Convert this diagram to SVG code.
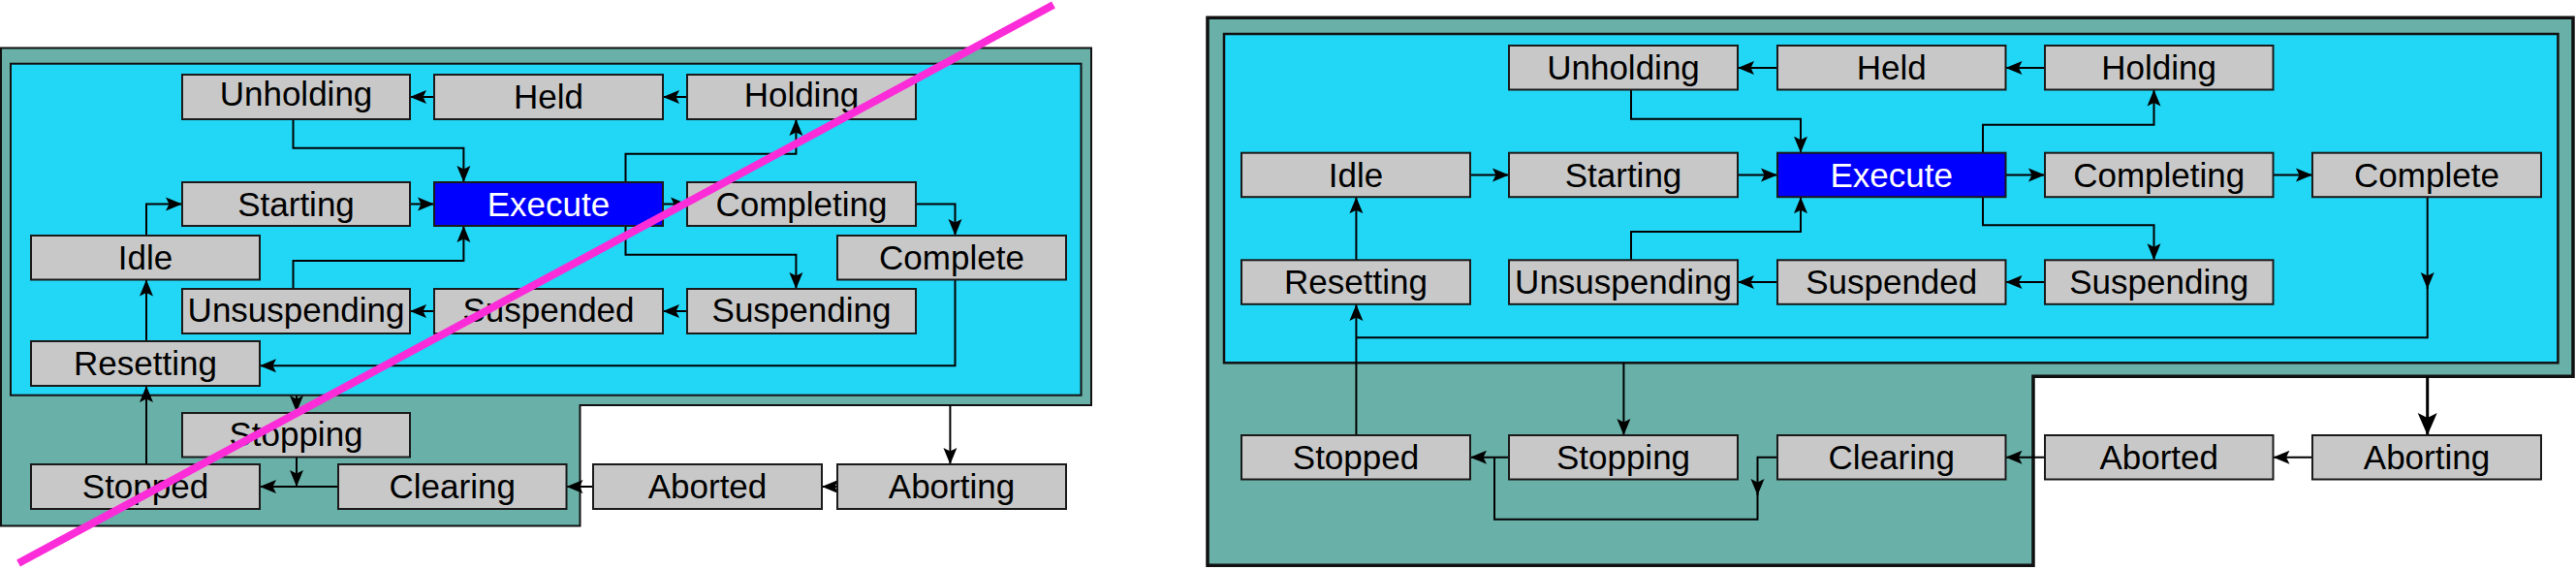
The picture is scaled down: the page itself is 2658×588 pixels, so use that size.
<svg xmlns="http://www.w3.org/2000/svg" width="2658" height="588" viewBox="0 0 2658 588">
<defs>
<style>
.bg{fill:#fff}
.outer{fill:#68b0a8;stroke:#111;stroke-width:2}
.outerR{fill:#68b0a8;stroke:#111;stroke-width:3.5}
.inner{fill:#22d6f5;stroke:#111;stroke-width:2}
.innerR{fill:#22d6f5;stroke:#111;stroke-width:2.5}
.box rect{fill:#c8c8c8;stroke:#1a1a1a;stroke-width:2}
.box text{font-family:"Liberation Sans",Arial,sans-serif;font-size:35px;fill:#000;text-anchor:middle}
.exec rect{fill:#0000ff;stroke:#1a1a1a;stroke-width:2}
.exec text{font-family:"Liberation Sans",Arial,sans-serif;font-size:35px;fill:#fff;text-anchor:middle}
.c path{fill:none;stroke:#000;stroke-width:2}
.c path.a{marker-end:url(#a)}
.c path.big{stroke-width:3;marker-end:url(#A)}
.strike{stroke:#fc2cd9;stroke-width:8;fill:none}
</style>
<marker id="a" markerWidth="18" markerHeight="16" refX="17" refY="8" orient="auto" markerUnits="userSpaceOnUse"><path d="M0,1 L17,8 L0,15 L3.5,8 Z" fill="#000"/></marker>
<marker id="A" markerWidth="24" markerHeight="22" refX="23" refY="11" orient="auto" markerUnits="userSpaceOnUse"><path d="M0,1 L23,11 L0,21 L5,11 Z" fill="#000"/></marker>
</defs>
<rect class="bg" x="0" y="0" width="2658" height="588"/>

<!-- LEFT DIAGRAM -->
<g id="left-containers">
<path class="outer" d="M1,49.5 H1126 V418 H598.5 V542.5 H1 Z"/>
<rect class="inner" x="11" y="65.7" width="1104.5" height="342"/>
</g>

<g id="left-connectors" class="c">
<path class="a" d="M448,100 H423"/>
<path class="a" d="M709,100 H684"/>
<path class="a" d="M302.5,123 V152.7 H478.4 V188"/>
<path class="a" d="M151,243 V210.5 H188"/>
<path class="a" d="M423,210.5 H448"/>
<path class="a" d="M684,210.5 H709"/>
<path class="a" d="M645.5,188 V158.7 H821.4 V123"/>
<path class="a" d="M945,210.5 H985.5 V243"/>
<path class="a" d="M645.5,233 V262.7 H821.4 V298"/>
<path class="a" d="M709,321 H684"/>
<path class="a" d="M448,321 H423"/>
<path class="a" d="M302.5,298 V269 H478.4 V233"/>
<path class="a" d="M151,352 V288.5"/>
<path class="a" d="M985.5,288.5 V377.3 H268"/>
<path class="a" d="M306,408 V425"/>
<path class="a" d="M151,479 V398"/>
<path class="a" d="M306,471.5 V502"/>
<path class="a" d="M349,502 H268"/>
<path class="a" d="M612,502 H584.5"/>
<path class="a" d="M864,502 H848"/>
<path class="a" d="M980.4,418 V479"/>
</g>

<g id="L-Unholding" class="box"><rect x="188" y="77" width="235" height="46"/><text x="305.5" y="109">Unholding</text></g>
<g id="L-Held" class="box"><rect x="448" y="77" width="236" height="46"/><text x="566" y="112">Held</text></g>
<g id="L-Holding" class="box"><rect x="709" y="77" width="236" height="46"/><text x="827" y="110">Holding</text></g>
<g id="L-Starting" class="box"><rect x="188" y="188" width="235" height="45"/><text x="305.5" y="222.5">Starting</text></g>
<g id="L-Execute" class="exec"><rect x="448" y="188" width="236" height="45"/><text x="566" y="222.5">Execute</text></g>
<g id="L-Completing" class="box"><rect x="709" y="188" width="236" height="45"/><text x="827" y="222.5">Completing</text></g>
<g id="L-Idle" class="box"><rect x="32" y="243" width="236" height="45.5"/><text x="150" y="278">Idle</text></g>
<g id="L-Complete" class="box"><rect x="864" y="243" width="236" height="45.5"/><text x="982" y="278">Complete</text></g>
<g id="L-Unsuspending" class="box"><rect x="188" y="298" width="235" height="46"/><text x="305.5" y="332">Unsuspending</text></g>
<g id="L-Suspended" class="box"><rect x="448" y="298" width="236" height="46"/><text x="566" y="332">Suspended</text></g>
<g id="L-Suspending" class="box"><rect x="709" y="298" width="236" height="46"/><text x="827" y="332">Suspending</text></g>
<g id="L-Resetting" class="box"><rect x="32" y="352" width="236" height="46"/><text x="150" y="387">Resetting</text></g>
<g id="L-Stopping" class="box"><rect x="188" y="426" width="235" height="45.5"/><text x="305.5" y="460">Stopping</text></g>
<g id="L-Stopped" class="box"><rect x="32" y="479" width="236" height="46"/><text x="150" y="514">Stopped</text></g>
<g id="L-Clearing" class="box"><rect x="349" y="479" width="235.5" height="46"/><text x="466.7" y="514">Clearing</text></g>
<g id="L-Aborted" class="box"><rect x="612" y="479" width="236" height="46"/><text x="730" y="514">Aborted</text></g>
<g id="L-Aborting" class="box"><rect x="864" y="479" width="236" height="46"/><text x="982" y="514">Aborting</text></g>

<line class="strike" x1="1087" y1="5" x2="19" y2="581"/>

<!-- RIGHT DIAGRAM -->
<g id="right-containers">
<path class="outerR" d="M1246,18.3 H2655 V388.3 H2098 V583.3 H1246 Z"/>
<rect class="innerR" x="1263" y="35" width="1376.4" height="339.3"/>
</g>

<g id="right-connectors" class="c">
<path class="a" d="M1834,70 H1793"/>
<path class="a" d="M2110,70 H2069.5"/>
<path class="a" d="M1683,92.5 V122.7 H1858 V157.7"/>
<path class="a" d="M1517,180.5 H1557"/>
<path class="a" d="M1793,180.5 H1834"/>
<path class="a" d="M2069.5,180.5 H2110"/>
<path class="a" d="M2345.5,180.5 H2386"/>
<path class="a" d="M2046,157.7 V128.7 H2222.5 V92.5"/>
<path class="a" d="M2046,203.2 V232.3 H2222.5 V268.3"/>
<path class="a" d="M2110,291 H2069.5"/>
<path class="a" d="M1834,291 H1793"/>
<path class="a" d="M1683,268.3 V239 H1858 V203.2"/>
<path class="a" d="M1399.4,268.3 V203.2"/>
<path class="a" d="M2504.7,203.2 V298"/>
<path d="M2504.7,296 V348.3 H1399.4"/>
<path class="a" d="M1399.4,449 V314"/>
<path class="a" d="M1675.4,374.3 V449"/>
<path class="a" d="M1557,471.7 H1517"/>
<path class="a" d="M1834,471.7 H1813.5 V511"/>
<path d="M1813.5,509 V535.7 H1542 V471.7"/>
<path class="a" d="M2110,471.7 H2069.5"/>
<path class="a" d="M2386,471.7 H2345.5"/>
<path class="big" d="M2504.7,388.3 V449"/>
</g>

<g id="R-Unholding" class="box"><rect x="1557" y="47" width="236" height="45.5"/><text x="1675" y="81.5">Unholding</text></g>
<g id="R-Held" class="box"><rect x="1834" y="47" width="235.5" height="45.5"/><text x="1951.7" y="81.5">Held</text></g>
<g id="R-Holding" class="box"><rect x="2110" y="47" width="235.5" height="45.5"/><text x="2227.7" y="81.5">Holding</text></g>
<g id="R-Idle" class="box"><rect x="1281" y="157.7" width="236" height="45.5"/><text x="1399" y="192.5">Idle</text></g>
<g id="R-Starting" class="box"><rect x="1557" y="157.7" width="236" height="45.5"/><text x="1675" y="192.5">Starting</text></g>
<g id="R-Execute" class="exec"><rect x="1834" y="157.7" width="235.5" height="45.5"/><text x="1951.7" y="192.5">Execute</text></g>
<g id="R-Completing" class="box"><rect x="2110" y="157.7" width="235.5" height="45.5"/><text x="2227.7" y="192.5">Completing</text></g>
<g id="R-Complete" class="box"><rect x="2386" y="157.7" width="236" height="45.5"/><text x="2504" y="192.5">Complete</text></g>
<g id="R-Resetting" class="box"><rect x="1281" y="268.3" width="236" height="45.5"/><text x="1399" y="303">Resetting</text></g>
<g id="R-Unsuspending" class="box"><rect x="1557" y="268.3" width="236" height="45.5"/><text x="1675" y="303">Unsuspending</text></g>
<g id="R-Suspended" class="box"><rect x="1834" y="268.3" width="235.5" height="45.5"/><text x="1951.7" y="303">Suspended</text></g>
<g id="R-Suspending" class="box"><rect x="2110" y="268.3" width="235.5" height="45.5"/><text x="2227.7" y="303">Suspending</text></g>
<g id="R-Stopped" class="box"><rect x="1281" y="449" width="236" height="45.5"/><text x="1399" y="484">Stopped</text></g>
<g id="R-Stopping" class="box"><rect x="1557" y="449" width="236" height="45.5"/><text x="1675" y="484">Stopping</text></g>
<g id="R-Clearing" class="box"><rect x="1834" y="449" width="235.5" height="45.5"/><text x="1951.7" y="484">Clearing</text></g>
<g id="R-Aborted" class="box"><rect x="2110" y="449" width="235.5" height="45.5"/><text x="2227.7" y="484">Aborted</text></g>
<g id="R-Aborting" class="box"><rect x="2386" y="449" width="236" height="45.5"/><text x="2504" y="484">Aborting</text></g>
</svg>
